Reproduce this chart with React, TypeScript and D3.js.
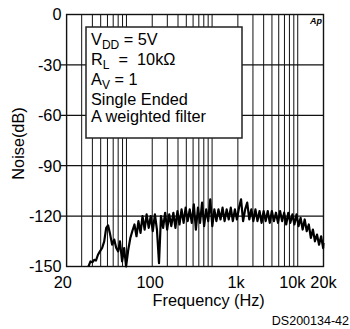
import React from "react";
import * as d3 from "d3";

const yTicks = [0, -30, -60, -90, -120, -150];
const yLabels = ["0", "-30", "-60", "-90", "-120", "-150"];
const xGrid = [30, 40, 50, 60, 70, 80, 90, 100, 200, 300, 400, 500, 600, 700, 800, 900,
  1000, 2000, 3000, 4000, 5000, 6000, 7000, 8000, 9000, 10000];
const xLabels = ["20", "100", "1k", "10k", "20k"];
// frequencies at which the (offset) labels sit in the original artwork
const xLabelAnchors = [18.1, 189, 1910, 8650, 20000];

const freqs = [36, 38, 40, 42, 44, 46.5, 49, 52, 55, 58, 61, 64, 68, 72, 76, 80, 84, 89, 94, 99,
  105, 111, 117, 124, 131, 138, 146, 154, 163, 172, 182, 192, 203, 215, 227, 240, 253, 268, 283, 299,
  316, 334, 353, 373, 394, 416, 440, 465, 491, 519, 548, 579, 612, 647, 684, 723, 764, 807, 853, 901,
  952, 1006, 1063, 1123, 1187, 1254, 1325, 1400, 1480, 1564, 1653, 1747, 1846, 1951, 2062, 2179, 2303, 2434, 2572, 2718,
  2872, 3035, 3207, 3389, 3581, 3784, 3999, 4226, 4466, 4720, 4988, 5271, 5570, 5886, 6220, 6573, 6946, 7340, 7757, 8197,
  8662, 9153, 9672, 10221, 10801, 11414, 12062, 12746, 13469, 14233, 15040, 15893, 16795, 17748, 18755, 19819, 20000];
const noise = [-150, -147, -147.5, -146, -146.5, -143, -141, -139, -135, -127, -125.5, -130, -137, -134, -139, -141, -135, -147, -139, -150,
  -140, -133, -129, -125, -132, -123, -130, -120, -128, -119, -127, -120, -129, -119, -128, -148, -120, -127, -118, -128,
  -119, -126, -118, -127, -117, -125, -116, -124, -115, -123, -116, -124, -113, -128, -115, -124, -112, -126, -116, -123,
  -110, -126, -116, -123, -116, -122, -115, -123, -116, -122, -115, -123, -116, -122, -115, -110, -123, -116, -112, -122,
  -116, -123, -116, -123, -117, -124, -117, -123, -117, -124, -117, -123, -118, -124, -117, -123, -118, -125, -118, -124,
  -119, -125, -119, -126, -121, -128, -122, -129, -125, -133, -128, -135, -131, -137, -132, -139, -136];

const W = 350, H = 329;
const L = 66.6, R = 323.5, T = 14.5, B = 266.5;
const FONT = "'Liberation Sans', Arial, Helvetica, sans-serif";

export default function App() {
  const x = d3.scaleLog().domain([20, 20000]).range([L, R]);
  const y = d3.scaleLinear().domain([-150, 0]).range([B, T]);
  const data = freqs.map((f, i) => [f, noise[i]] as [number, number]);
  const line = d3.line<[number, number]>().x((d) => x(d[0])).y((d) => y(d[1]));

  return (
    <svg width={W} height={H} style={{ position: "absolute", left: 0, top: 0, background: "#fff" }}
      fontFamily={FONT}>
      <rect x={0} y={0} width={W} height={H} fill="#fff" />
      {xGrid.map((f) => (
        <line key={f} x1={x(f)} x2={x(f)} y1={T} y2={B} stroke="#111" strokeWidth={1} />
      ))}
      {yTicks.slice(1, -1).map((v) => (
        <line key={v} x1={L - 6} x2={R} y1={y(v)} y2={y(v)} stroke="#111" strokeWidth={1.2} />
      ))}
      <rect x={L} y={T} width={R - L} height={B - T} fill="none" stroke="#111" strokeWidth={1.4} />
      <path d={line(data) || ""} fill="none" stroke="#000" strokeWidth={2.2} strokeLinejoin="round" />

      {/* legend box */}
      <rect x={86} y={27} width={156} height={111} fill="#fff" stroke="#222" strokeWidth={1.5} />
      <g fontSize={16.3} fill="#000">
        <text x={91} y={45} xmlSpace="preserve">V<tspan fontSize={12} dy={3.5}>DD</tspan><tspan dy={-3.5}> = 5V</tspan></text>
        <text x={91} y={65} xmlSpace="preserve">R<tspan fontSize={12} dy={3.5}>L</tspan><tspan dy={-3.5}>{"  =  10kΩ"}</tspan></text>
        <text x={91} y={85} xmlSpace="preserve">A<tspan fontSize={12} dy={3.5}>V</tspan><tspan dy={-3.5}> = 1</tspan></text>
        <text x={91} y={105}>Single Ended</text>
        <text x={91} y={122}>A weighted filter</text>
      </g>

      {yTicks.map((v, i) => (
        <text key={v} x={61.5} y={y(v)} dy="0.36em" textAnchor="end" fontSize={16.3}>{yLabels[i]}</text>
      ))}
      {xLabels.map((t, i) => (
        <text key={t} x={x(xLabelAnchors[i])} y={288} textAnchor="middle" fontSize={16.3}>{t}</text>
      ))}
      <text x={208.7} y={306} textAnchor="middle" fontSize={16.3}>Frequency (Hz)</text>
      <text transform={`translate(24,${(T + B) / 2 + 3}) rotate(-90)`} textAnchor="middle" fontSize={16.3}>Noise(dB)</text>
      <text x={349} y={325} textAnchor="end" fontSize={12.5}>DS200134-42</text>
      <text x={310} y={24} fontSize={9} fontWeight="bold" fontStyle="italic">Ap</text>
    </svg>
  );
}
